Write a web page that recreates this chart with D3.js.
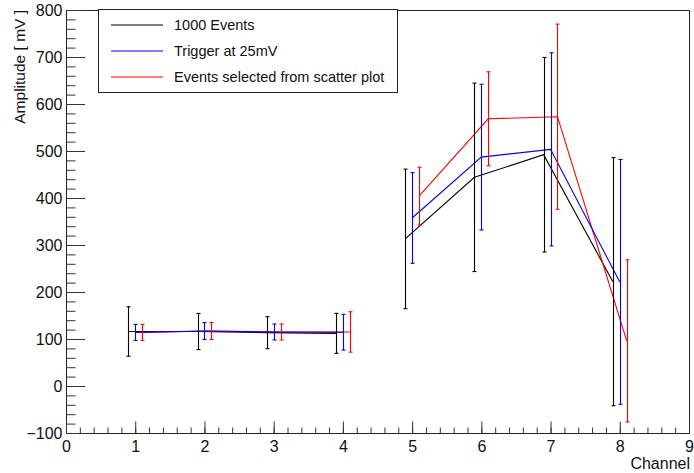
<!DOCTYPE html>
<html>
<head>
<meta charset="utf-8">
<script src="https://cdn.jsdelivr.net/npm/d3@7"></script>
<style>
  html, body { margin: 0; padding: 0; background: #fff; }
  svg { display: block; font-family: "Liberation Sans", Arial, Helvetica, sans-serif; }
</style>
</head>
<body>
<svg id="chart" width="694" height="473"></svg>
<script>
// Channels and per-series amplitudes (mV) with their errors
const channels = [1, 2, 3, 4, 5, 6, 7, 8];
// Channels 1-4 and 5-8 are drawn as two separate connected groups
const channelGroups = [[1, 2, 3, 4], [5, 6, 7, 8]];

const allEventsMean = [116, 116, 113.5, 112, 313, 444, 492, 222];
const allEventsErr  = [52.5, 38.5, 34, 42.5, 148.5, 200.5, 207, 264];

const triggerMean = [114, 117, 115, 114.5, 357.5, 487, 503.5, 221.5];
const triggerErr  = [17, 18, 17, 38, 96.5, 155, 205.5, 260.5];

const selectedMean = [114, 117, 115, 115, 404, 568.5, 573, 96];
const selectedErr  = [17, 18, 17, 43, 61.5, 100, 197, 172.5];

const seriesNames = ["1000 Events", "Trigger at 25mV", "Events selected from scatter plot"];
const seriesColors = ["#000000", "#0000ff", "#ff0000"];
const seriesOffsets = [-0.1, 0, 0.1];

const xTickValues = d3.range(0, 10, 1);
const yTickValues = d3.range(-100, 801, 100);

const series = [
  { name: seriesNames[0], color: seriesColors[0], dx: seriesOffsets[0], mean: allEventsMean, err: allEventsErr },
  { name: seriesNames[1], color: seriesColors[1], dx: seriesOffsets[1], mean: triggerMean, err: triggerErr },
  { name: seriesNames[2], color: seriesColors[2], dx: seriesOffsets[2], mean: selectedMean, err: selectedErr }
];

const svg = d3.select("#chart");
const frame = { left: 66, right: 689, top: 10, bottom: 433 };

const x = d3.scaleLinear().domain([0, 9]).range([frame.left, frame.right]);
const y = d3.scaleLinear().domain([-100, 800]).range([frame.bottom, frame.top]);

// Frame
svg.append("rect")
  .attr("x", frame.left + 0.5).attr("y", frame.top + 0.5)
  .attr("width", frame.right - frame.left).attr("height", frame.bottom - frame.top)
  .attr("fill", "none").attr("stroke", "#222").attr("stroke-width", 1);

// Y axis: major and minor ticks pointing into the frame
const yMinor = svg.append("g").attr("transform", `translate(${frame.left + 0.5},0)`)
  .call(d3.axisLeft(y).tickValues(d3.range(-100, 801, 20)).tickSize(-9).tickFormat(""));
const yMajor = svg.append("g").attr("transform", `translate(${frame.left + 0.5},0)`)
  .call(d3.axisLeft(y).tickValues(yTickValues).tickSize(-18.5).tickPadding(4)
    .tickFormat(d => d < 0 ? "\u2212" + Math.abs(d) : d));

// X axis
const xMinor = svg.append("g").attr("transform", `translate(0,${frame.bottom + 0.5})`)
  .call(d3.axisBottom(x).tickValues(d3.range(0, 9.001, 0.2)).tickSize(-6).tickFormat(""));
const xMajor = svg.append("g").attr("transform", `translate(0,${frame.bottom + 0.5})`)
  .call(d3.axisBottom(x).tickValues(xTickValues).tickSize(-12).tickPadding(7));

[yMinor, yMajor, xMinor, xMajor].forEach(g => {
  g.select(".domain").remove();
  g.selectAll(".tick line").attr("stroke", "#333");
  g.selectAll("text").attr("fill", "#111").style("font-size", "16px");
});

// Axis titles
svg.append("text")
  .attr("transform", `translate(25,${frame.top}) rotate(-90)`)
  .attr("text-anchor", "end")
  .style("font-size", "15.5px").attr("fill", "#111")
  .text("Amplitude [ mV ]");

svg.append("text")
  .attr("x", 690).attr("y", 469)
  .attr("text-anchor", "end")
  .style("font-size", "16px").attr("fill", "#111")
  .text("Channel");

// Data series: connecting lines per channel group, then error bars with end caps
const plot = svg.append("g");
const drawOrder = [series[0], series[2], series[1]];

drawOrder.forEach(s => {
  const line = d3.line()
    .x(c => x(c + s.dx))
    .y(c => y(s.mean[channels.indexOf(c)]));
  channelGroups.forEach(group => {
    plot.append("path")
      .datum(group)
      .attr("d", line)
      .attr("fill", "none")
      .attr("stroke", s.color)
      .attr("stroke-width", 1.1);
  });
});

drawOrder.forEach(s => {
  const g = plot.append("g").attr("stroke", s.color).attr("stroke-width", 1.1);
  channels.forEach((c, i) => {
    const cx = Math.round(x(c + s.dx)) + 0.5;
    const y0 = y(s.mean[i] - s.err[i]);
    const y1 = y(s.mean[i] + s.err[i]);
    g.append("line").attr("x1", cx).attr("x2", cx).attr("y1", y0).attr("y2", y1);
    g.append("line").attr("x1", cx - 2).attr("x2", cx + 2).attr("y1", y0).attr("y2", y0);
    g.append("line").attr("x1", cx - 2).attr("x2", cx + 2).attr("y1", y1).attr("y2", y1);
  });
});

// Legend
const legend = svg.append("g");
legend.append("rect")
  .attr("x", 98.5).attr("y", 9.5).attr("width", 299).attr("height", 83)
  .attr("fill", "#fff").attr("stroke", "#222").attr("stroke-width", 1);

const rowY = [25, 51, 77];
series.forEach((s, i) => {
  legend.append("line")
    .attr("x1", 111).attr("x2", 163)
    .attr("y1", rowY[i]).attr("y2", rowY[i])
    .attr("stroke", s.color).attr("stroke-width", 1);
  legend.append("text")
    .attr("x", 174).attr("y", rowY[i]).attr("dy", "0.36em")
    .style("font-size", "14.5px").attr("fill", "#111")
    .text(s.name);
});
</script>
</body>
</html>
